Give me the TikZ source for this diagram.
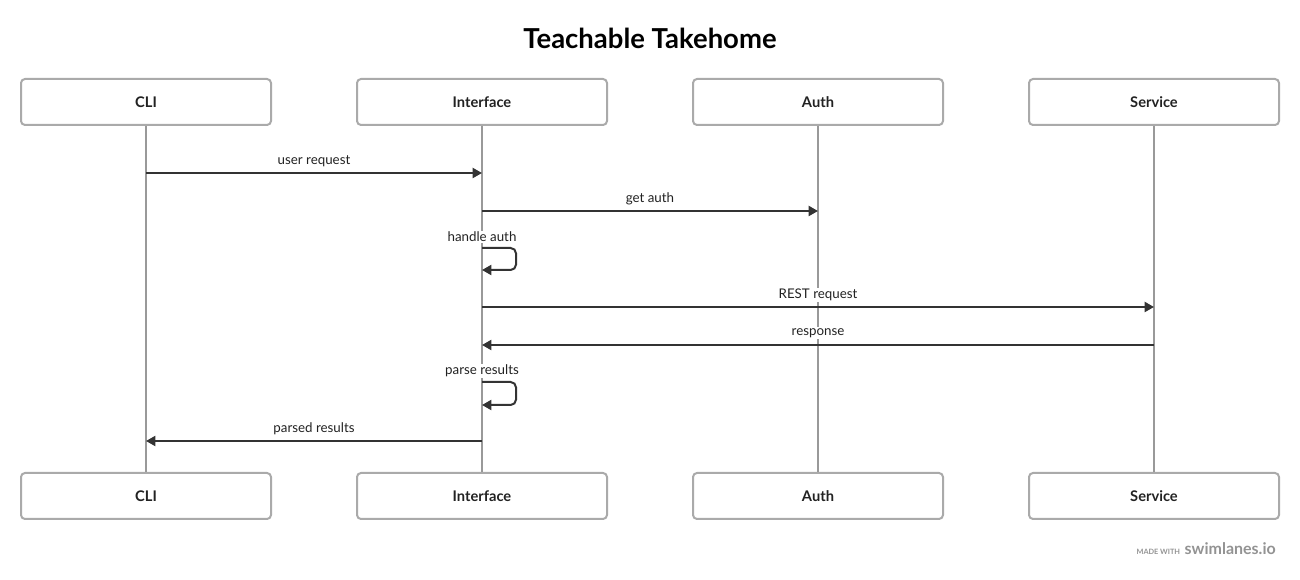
\documentclass[tikz,border=0pt]{standalone}
\usepackage{fontspec}
\setmainfont{Lato}
\usetikzlibrary{arrows.meta}
\definecolor{boxgray}{HTML}{AAAAAA}
\definecolor{linegray}{HTML}{999999}
\definecolor{msgdark}{HTML}{333333}
\definecolor{txt}{HTML}{222222}
\begin{document}
\begin{tikzpicture}[x=0.75pt,y=-0.75pt,
  actor/.style={draw=boxgray,line width=1.5pt,rounded corners=3pt,fill=white,
    minimum width=187.5pt,minimum height=34.5pt,inner sep=0pt,
    font=\fontsize{11}{13}\selectfont\bfseries,text=txt},
  life/.style={draw=linegray,line width=1.5pt},
  msg/.style={draw=msgdark,line width=1.5pt,-{Triangle[length=7pt,width=7.5pt]}},
  lbl/.style={fill=white,inner sep=1pt,font=\fontsize{10}{12}\selectfont,text=txt}]
\useasboundingbox (0,0) rectangle (1300,580);
\fill[white] (0,0) rectangle (1300,580);
\node[font=\fontsize{20.6}{24}\selectfont\bfseries,text=black] (title) at (650,38) {Teachable Takehome};
% top actors
\node[actor] (cliT) at (146,102) {CLI};
\node[actor] (ifT) at (482,102) {Interface};
\node[actor] (auT) at (818,102) {Auth};
\node[actor] (svT) at (1154,102) {Service};
% bottom actors
\node[actor] (cliB) at (146,496) {CLI};
\node[actor] (ifB) at (482,496) {Interface};
\node[actor] (auB) at (818,496) {Auth};
\node[actor] (svB) at (1154,496) {Service};
% lifelines
\draw[life] (cliT.south) -- (cliB.north);
\draw[life] (ifT.south) -- (ifB.north);
\draw[life] (auT.south) -- (auB.north);
\draw[life] (svT.south) -- (svB.north);
% message anchor coordinates
\coordinate (m1a) at (146,173); \coordinate (m1b) at (482,173);
\coordinate (m2a) at (482,211); \coordinate (m2b) at (818,211);
\coordinate (m3a) at (482,248); \coordinate (m3b) at (482,270);
\coordinate (m4a) at (482,307); \coordinate (m4b) at (1154,307);
\coordinate (m5a) at (1154,345); \coordinate (m5b) at (482,345);
\coordinate (m6a) at (482,382); \coordinate (m6b) at (482,405);
\coordinate (m7a) at (482,441); \coordinate (m7b) at (146,441);
% messages
\draw[msg] (m1a) -- (m1b);
\node[lbl] (l1) at (314,161) {user request};
\draw[msg] (m2a) -- (m2b);
\node[lbl] (l2) at (650,199) {get auth};
\node[lbl] (l3) at (482,237) {handle auth};
\draw[msg,rounded corners=4pt] (m3a) -- ++(34,0) |- (m3b);
\draw[msg] (m4a) -- (m4b);
\node[lbl] (l4) at (818,295) {REST request};
\draw[msg] (m5a) -- (m5b);
\node[lbl] (l5) at (818,333) {response};
\node[lbl] (l6) at (482,371) {parse results};
\draw[msg,rounded corners=4pt] (m6a) -- ++(34,0) |- (m6b);
\draw[msg] (m7a) -- (m7b);
\node[lbl] (l7) at (314,429) {parsed results};
% footer
\node[anchor=base east,font=\fontsize{12}{14}\selectfont\bfseries,text=gray!85,inner sep=0pt] (brand) at (1276,555) {swimlanes.io};
\node[anchor=base east,font=\fontsize{5.5}{6.5}\selectfont\bfseries,text=gray!85,inner sep=0pt] (made) at ([xshift=-3pt]brand.base west) {MADE WITH};
\end{tikzpicture}
\end{document}
